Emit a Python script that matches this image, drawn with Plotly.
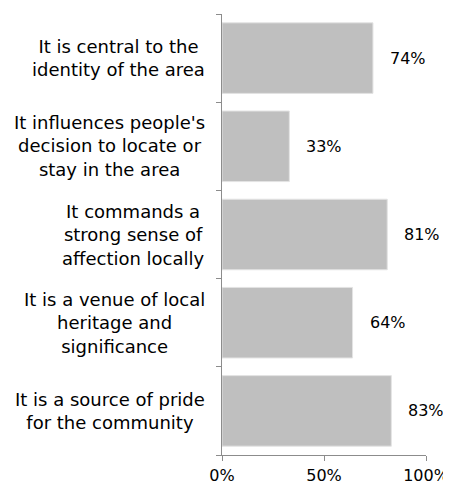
import plotly.graph_objects as go

categories = [
    "It is a source of pride<br>for the community",
    "It is a venue of local<br>heritage and<br>significance",
    "It commands a<br>strong sense of<br>affection locally",
    "It influences people's<br>decision to locate or<br>stay in the area",
    "It is central to the<br>identity of the area",
]
values = [83, 64, 81, 33, 74]
x_tickvals = [0, 50, 100]
x_ticktext = ["0%", "50%", "100%"]

FONT = "DejaVu Sans"
# page body has an 8px default margin; size the figure to fit the 451x484 window
W, H = 443, 476

fig = go.Figure()
fig.add_trace(go.Bar(
    x=values, y=categories, orientation="h",
    marker=dict(color="#bfbfbf", line=dict(color="#e3e3e3", width=1)),
    hoverinfo="skip",
))

annotations = []
for c, v in zip(categories, values):
    annotations.append(dict(
        x=v, y=c, xref="x", yref="y", text=f"{v}%", showarrow=False,
        xanchor="left", yanchor="middle", xshift=15,
        font=dict(family=FONT, size=16, color="#000"),
    ))
    annotations.append(dict(
        x=0, y=c, xref="paper", yref="y", text=c, showarrow=False,
        xanchor="right", yanchor="middle", align="center", xshift=-15,
        font=dict(family=FONT, size=18, color="#000"),
    ))

fig.update_layout(
    width=W, height=H,
    margin=dict(l=214, r=25, t=6, b=29, autoexpand=False),
    paper_bgcolor="white", plot_bgcolor="white",
    showlegend=False,
    bargap=0.2,
    font=dict(family=FONT, size=16, color="#000"),
    xaxis=dict(
        range=[0, 100], tickvals=x_tickvals, ticktext=x_ticktext,
        showgrid=False, zeroline=False, showline=True, linecolor="#8c8c8c", linewidth=1,
        ticks="outside", ticklen=5, tickcolor="#8c8c8c", automargin=False,
        ticklabelstandoff=1,
        tickfont=dict(family=FONT, size=16, color="#000"),
    ),
    yaxis=dict(
        type="category", tickson="boundaries", showticklabels=False,
        showgrid=False, zeroline=False, showline=True, linecolor="#8c8c8c", linewidth=1,
        ticks="outside", ticklen=5, tickcolor="#8c8c8c", automargin=False,
    ),
    annotations=annotations,
)

fig.write_html("out.html")
